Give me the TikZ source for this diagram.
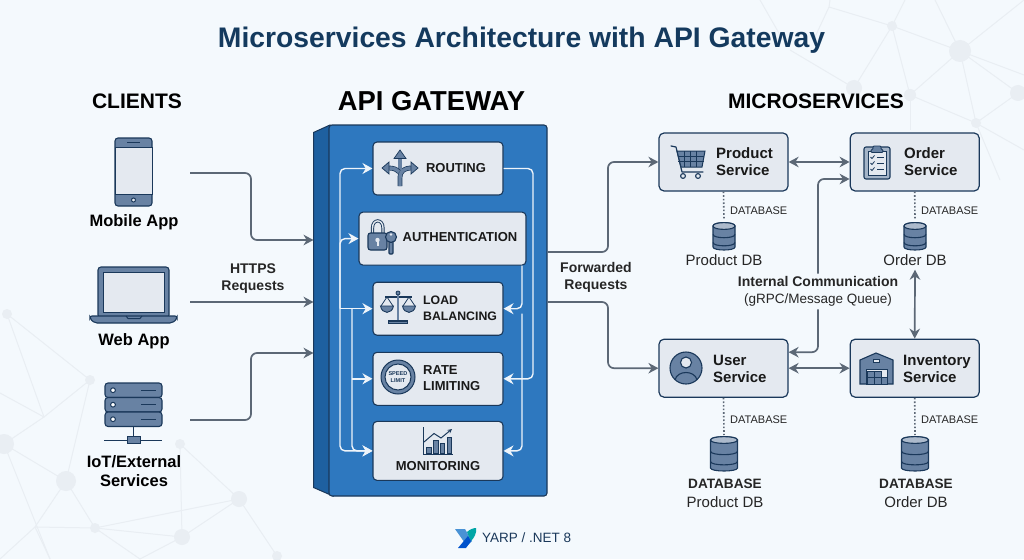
\documentclass[tikz,border=0pt]{standalone}
\usepackage{xcolor}
\usepackage{fontspec}
\setmainfont{Liberation Sans}
\usetikzlibrary{arrows,arrows.meta,positioning,calc}
\definecolor{bgcol}{RGB}{244,249,253}
\definecolor{netcol}{RGB}{233,238,243}
\definecolor{titlecol}{RGB}{20,58,94}
\definecolor{navy}{RGB}{26,56,90}
\definecolor{steel}{RGB}{104,130,163}
\definecolor{pale}{RGB}{228,233,240}
\definecolor{gwfront}{RGB}{46,120,191}
\definecolor{gwside}{RGB}{30,96,160}
\definecolor{linkcol}{RGB}{92,104,118}
\newcommand{\fs}[1]{\fontsize{#1}{#1}\selectfont}
% cylinder icon: centre x, top y, half width, height
\newcommand{\dbicon}[4]{
  \draw[navy, fill=steel, line width=1.1pt] (#1-#3,#2+3) -- (#1-#3,#2+#4-3)
    .. controls (#1-#3,#2+#4+1) and (#1+#3,#2+#4+1) .. (#1+#3,#2+#4-3) -- (#1+#3,#2+3)
    .. controls (#1+#3,#2-1.5) and (#1-#3,#2-1.5) .. cycle;
  \draw[navy, fill=steel!55, line width=1.1pt] (#1-#3,#2+3)
    .. controls (#1-#3,#2+7.5) and (#1+#3,#2+7.5) .. (#1+#3,#2+3)
    .. controls (#1+#3,#2-1.5) and (#1-#3,#2-1.5) .. cycle;
  \foreach \k in {0.42,0.72}
    \draw[navy, line width=1.1pt] (#1-#3,#2+\k*#4)
      .. controls (#1-#3,#2+\k*#4+4.5) and (#1+#3,#2+\k*#4+4.5) .. (#1+#3,#2+\k*#4);
}

\begin{document}
\begin{tikzpicture}[
    x=1pt, y=-1pt,
    module/.style={rectangle, rounded corners=4pt, draw=navy, fill=pale, line width=1.1pt, minimum width=130pt, minimum height=53pt},
    service/.style={rectangle, rounded corners=5pt, draw=navy, fill=pale, line width=1.2pt, minimum width=129pt, minimum height=58pt},
    head/.style={font=\bfseries\fs{21}, text=black},
    caption/.style={font=\bfseries\fs{16.5}, align=center, text=black, inner sep=0pt},
    small/.style={font=\bfseries\fs{14}, align=center, text=black!85, inner sep=0pt},
    modtext/.style={font=\bfseries\fs{13}, align=left, text=black!90, inner sep=0pt},
    svctext/.style={font=\bfseries\fs{15}, align=left, text=black!90, inner sep=0pt},
    dbtag/.style={font=\fs{11}, text=black!85, inner sep=0pt, anchor=west},
    dbname/.style={font=\fs{15}, align=center, text=black!85, inner sep=0pt},
    link/.style={-{Stealth[length=10pt,width=10.5pt]}, draw=linkcol, line width=1.7pt, rounded corners=6pt},
    biglink/.style={link, {Stealth[length=10pt,width=10.5pt]}-{Stealth[length=10pt,width=10.5pt]}},
    flow/.style={-{Stealth[length=10pt,width=11pt]}, draw=white!92!gwfront, line width=1.4pt, rounded corners=5pt},
    bothflow/.style={flow, {Stealth[length=10pt,width=11pt]}-{Stealth[length=10pt,width=11pt]}},
    dbline/.style={draw=linkcol, line width=1.6pt, dotted},
    icon/.style={draw=navy, fill=steel, line width=1.1pt},
    road/.style={draw=navy, line width=.7pt, double=steel, double distance=3.4pt},
    netline/.style={draw=netcol, line width=1pt}
]
    \useasboundingbox (0,0) rectangle (1024,559);
    \fill[bgcol] (0,0) rectangle (1024,559);

    % background network
    \foreach \n/\x/\y in {a/7/314, b/90/380, c/44/417, d/4/444, e/66/481, f/35/527, g/95/528, h/180/444, i/239/499, j/182/537, k/277/556,
        l/0/393, m/50/559, o/0/559, p/140/559, q/50/559,
        r/829/7, s/892/26, t/960/51, u/854/88, v/910/95, w/1018/93, z/976/123,
        aa/780/35, ab/760/0, ac/905/0, ad/935/0, ae/1024/0, af/1024/75, ag/1024/150, ah/1000/180, ai/910/130, aj/790/50, ak/830/0, al/815/37}
        \coordinate (n\n) at (\x,\y);
    \foreach \a/\b in {a/b, a/c, b/c, c/d, l/c, b/e, d/e, d/m, e/f, e/g, f/g, f/o, g/i, g/j, j/i, h/i, h/j, i/k, j/p, f/m, g/p,
        s/t, s/r, r/al, s/u, s/v, t/v, t/w, t/z, t/af, v/z, w/z, z/ag, z/ah, v/ai, ab/aa, ac/s, ad/t, ae/t, u/aj, r/ak}
        \draw[netline] (n\a) -- (n\b);
    \foreach \n/\r in {a/5, b/5, d/10, e/10, g/5, h/5, i/8, j/8, k/5, s/5, t/11, u/8, v/6, w/8, z/5}
        \fill[netcol] (n\n) circle[radius=\r];

    % headings
    \node[font=\bfseries\fs{28.3}, text=titlecol] (title) at (521.5,40) {Microservices Architecture with API Gateway};
    \node[head] (clientshead) at (137,101) {CLIENTS};
    \node[head, font=\bfseries\fs{27.4}] (gatewayhead) at (431.5,101) {API GATEWAY};
    \node[head] (serviceshead) at (816,101) {MICROSERVICES};

    % clients
    \draw[icon, rounded corners=3pt] (115,138) rectangle (152,206);
    \draw[navy, fill=pale, line width=1pt] (115,147) rectangle (152,194);
    \draw[navy, line width=1pt] (127,142.5) -- (140,142.5);
    \draw[navy, fill=pale, line width=1pt] (133.5,200) circle[radius=2];
    \node[caption] (mobilelabel) at (134,222.5) {Mobile App};

    \draw[icon, rounded corners=3pt] (98,267) rectangle (169,318);
    \draw[navy, fill=pale, line width=1pt] (103,272) rectangle (164,312);
    \draw[icon, rounded corners=2pt] (90,316) -- (177,316) -- (177,319) -- (172,323) -- (95,323) -- (90,319) -- cycle;
    \draw[navy, line width=1pt] (126,316) -- (128,318.5) -- (140,318.5) -- (142,316);
    \node[caption] (weblabel) at (134,341.5) {Web App};

    \foreach \y in {383,397.5,412}
        \draw[icon, rounded corners=3pt] (105,\y) rectangle (162,\y+14.5);
    \foreach \y in {390.5,405,419.5} {
        \draw[navy, fill=white, line width=1pt] (113,\y-.3) circle[radius=2.4];
        \draw[navy, line width=1pt] (141,\y-.3) -- (156,\y-.3);
    }
    \draw[navy, line width=1pt] (133.5,427) -- (133.5,438) (104,440) -- (162,440);
    \draw[icon, line width=1pt] (127,436.5) rectangle (140,443.5);
    \node[caption] (iotlabel) at (134,471) {IoT/External\\[3pt]Services};

    \coordinate (mobileout) at (190,173);
    \coordinate (webout) at (190,302);
    \coordinate (iotout) at (190,420);
    \coordinate (clientbus) at (251,300);

    % gateway
    \node[rectangle, draw=navy, fill=gwside, line width=1pt, minimum width=16pt, minimum height=354pt] (side) at (322,310) {};
    \draw[navy, fill=gwside, line width=1pt] (side.north west) -- (330,125) -- (side.north east |- 330,140) -- (side.south east) -- (333,496) -- (side.south west) -- cycle;
    \node[rectangle, rounded corners=3pt, draw=navy, fill=gwfront, line width=1.1pt, minimum width=218pt, minimum height=371pt] (gateway) at (438,310.5) {};

    \node[module] (routing) at (438,168.5) {};
    \node[module, minimum width=167pt, below=16pt of routing, xshift=4.5pt] (auth) {};
    \node[module, below=16pt of auth, xshift=-4.5pt] (load) {};
    \node[module, below=16pt of load] (rate) {};
    \node[module, minimum height=59pt, below=15pt of rate] (monitoring) {};

    \node[modtext] (routingtext) at (456,168.5) {ROUTING};
    \node[modtext] (authtext) at (460,237.5) {AUTHENTICATION};
    \node[modtext, anchor=west, font=\bfseries\fs{12.3}] (loadtext) at (423,308) {LOAD\\[3.5pt]BALANCING};
    \node[modtext, anchor=west] (ratetext) at (423,378) {RATE\\[3pt]LIMITING};
    \node[modtext] (montext) at (438,466) {MONITORING};

    % module icons
    \draw[road] (400,186) -- (400,178) .. controls (400,171) and (404,168) .. (412,168);
    \draw[road] (400,172) -- (400,158);
    \draw[road] (399,172) .. controls (396,169) and (394,168) .. (388,168);
    \draw[icon, line width=.7pt] (400,150) -- (406,158.5) -- (394,158.5) -- cycle;
    \draw[icon, line width=.7pt] (382,168) -- (389,162) -- (389,174) -- cycle;
    \draw[icon, line width=.7pt] (418,168) -- (411,162) -- (411,174) -- cycle;

    \draw[navy, line width=3.2pt] (372.5,233) -- (372.5,228) .. controls (372.5,218.5) and (383,218.5) .. (383,228) -- (383,233);
    \draw[pale, line width=1.4pt] (372.5,233) -- (372.5,228) .. controls (372.5,218.5) and (383,218.5) .. (383,228) -- (383,233);
    \draw[icon, rounded corners=2.5pt] (368,233) rectangle (387,250);
    \fill[pale] (377.5,240) circle[radius=2.2];
    \fill[pale] (376.5,240) rectangle (378.5,246);
    \draw[icon, rounded corners=1pt] (389,240) -- (389,254) -- (393,254) -- (393,240) -- cycle;
    \draw[icon] (391,237) circle[radius=5.5];
    \fill[pale] (391,234.5) circle[radius=1.3];

    \draw[navy, line width=1.1pt] (385,297) -- (412,297);
    \draw[steel, line width=2.4pt] (398,292) -- (398,321);
    \draw[navy, fill=steel, line width=.8pt] (398,293) circle[radius=2];
    \draw[icon] (388.5,321) -- (407.5,321) -- (407.5,323.5) -- (388.5,323.5) -- cycle;
    \foreach \c in {387,409} {
        \draw[navy, line width=.8pt] (\c,297) -- (\c-6,306) (\c,297) -- (\c+6,306);
        \draw[icon, line width=.9pt] (\c-6.5,306) .. controls (\c-5,314.5) and (\c+5,314.5) .. (\c+6.5,306) -- cycle;
    }

    \draw[navy, fill=steel, line width=1pt] (398,377) circle[radius=17];
    \draw[navy, fill=pale, line width=1pt] (398,377) circle[radius=13];
    \node[font=\bfseries\fs{5.6}, align=center, text=navy, inner sep=0pt] (speedtext) at (398,377) {SPEED\\[1.5pt]LIMIT};

    \draw[navy, line width=1pt] (423,427) -- (423,454) -- (453,454);
    \foreach \x/\y in {426.5/447, 433.5/440, 440/443.5, 447/437}
        \draw[icon, line width=.9pt] (\x,\y) rectangle (\x+4.5,453);
    \draw[navy, line width=1pt, ->, >=stealth] (424,442) -- (434,433.5) -- (441,438) -- (452,429);

    % gateway flows
    \coordinate (busa) at (340,300);
    \coordinate (busb) at (352,300);
    \coordinate (busc) at (533,300);
    \coordinate (busd) at (522,300);
    \draw[bothflow] (routing.west) -- (busa |- routing.west) -- (busa |- monitoring.west) -- (monitoring.west);
    \draw[flow] (busa |- load.west) -- (busa |- auth.west) -- (auth.west);
    \draw[flow] (busa |- load.west) -- (load.west);
    \draw[flow] (busb |- load.west) -- (busb |- monitoring.west) -- (monitoring.west);
    \draw[flow] (busb |- rate.west) -- (rate.west);
    \draw[flow] (routing.east) -- (busc |- routing.east) -- (busc |- rate.east) -- (rate.east);
    \draw[flow] (busd |- auth.south) -- (busd |- load.east) -- (load.east);
    \draw[flow] ([yshift=-5pt]busd |- load.east) -- (busd |- monitoring.east) -- (monitoring.east);

    % client links
    \coordinate (gwina) at ([yshift=70pt]side.west);
    \coordinate (gwinc) at ([yshift=-43pt]side.west);
    \draw[link] (mobileout) -- (clientbus |- mobileout) -- (clientbus |- gwina) -- (gwina);
    \draw[link] (webout) -- (webout -| side.west);
    \draw[link] (iotout) -- (clientbus |- iotout) -- (clientbus |- gwinc) -- (gwinc);
    \node[small] (https) at (253,279) {HTTPS\\[3pt]Requests};

    % services
    \node[service] (product) at (723.5,162) {};
    \node[service, right=61pt of product] (order) {};
    \node[service, below=147pt of product] (user) {};
    \node[service, right=61pt of user] (inventory) {};
    \node[svctext, anchor=west] (producttext) at (716,162) {Product\\[2pt]Service};
    \node[svctext, anchor=west] (ordertext) at (904,162) {Order\\[2pt]Service};
    \node[svctext, anchor=west] (usertext) at (713,369) {User\\[2pt]Service};
    \node[svctext, anchor=west] (inventorytext) at (903,369) {Inventory\\[2pt]Service};

    % service icons
    \draw[navy, line width=1.2pt, line cap=round, line join=round] (671,146) -- (676,147) -- (682,172) -- (703,172);
    \draw[icon, line width=1pt] (677,151) -- (705,151) -- (702,167) -- (681,167) -- cycle;
    \foreach \x in {684,690,696}
        \draw[navy, line width=.8pt] (\x,151) -- (\x,167);
    \foreach \y in {156,161.5}
        \draw[navy, line width=.8pt] (678,\y) -- (704,\y);
    \foreach \x in {683,698}
        \draw[navy, fill=pale, line width=1.1pt] (\x,176) circle[radius=2.4];

    \draw[icon, fill=steel!60, rounded corners=2pt] (864,147) rectangle (890,179);
    \draw[navy, fill=pale, line width=.9pt] (868,151) rectangle (886,175);
    \draw[icon, rounded corners=1pt, line width=.9pt] (871,149.5) -- (873,149.5) -- (873,146) -- (881,146) -- (881,149.5) -- (883,149.5) -- (883,152.5) -- (871,152.5) -- cycle;
    \foreach \y in {157,163,169} {
        \draw[navy, line width=.8pt] (870.5,\y) -- (872,\y+1.5) -- (874.5,\y-1.5);
        \draw[navy, line width=.9pt] (877,\y) -- (884,\y);
    }

    \draw[icon] (686,368) circle[radius=16];
    \draw[navy, fill=pale, line width=1.1pt] (686,362.5) circle[radius=5.5];
    \draw[navy, line width=1.1pt] (675,380) .. controls (677,370) and (695,370) .. (697,380);

    \draw[icon] (860,384) -- (860,360) -- (876,353) -- (893,360) -- (893,384) -- cycle;
    \draw[navy, fill=pale, line width=.9pt] (873,359.5) rectangle (879,362.5);
    \draw[navy, fill=pale, line width=.9pt] (866,369) rectangle (887,384);
    \foreach \x/\y/\w in {867/371/7, 874.5/371/7, 867/377.5/7, 874.5/377.5/7, 881.5/377.5/5.5}
        \draw[navy, fill=steel, line width=.7pt] (\x,\y) rectangle (\x+\w,\y+6.5);

    % databases
    \draw[dbline] (product.south) -- (724,220);
    \draw[dbline] (order.south) -- (915,220);
    \draw[dbline] (user.south) -- (724,435);
    \draw[dbline] (inventory.south) -- (915,435);
    \node[dbtag] (producttag) at (730,211) {DATABASE};
    \node[dbtag] (ordertag) at (921,211) {DATABASE};
    \node[dbtag] (usertag) at (730,420) {DATABASE};
    \node[dbtag] (inventorytag) at (921,420) {DATABASE};
    \dbicon{724}{223}{11}{27}
    \dbicon{915}{223}{11}{27}
    \dbicon{724}{437}{13.5}{34}
    \dbicon{915}{437}{13.5}{34}
    \node[dbname] (productdb) at (724,260) {Product DB};
    \node[dbname] (orderdb) at (915,260) {Order DB};
    \node[dbname] (userdb) at (725,493.5) {\textbf{\fs{13.6}DATABASE}\\[3.5pt]Product DB};
    \node[dbname] (inventorydb) at (916,493.5) {\textbf{\fs{13.6}DATABASE}\\[3.5pt]Order DB};

    % service links
    \node[font=\fs{13.5}, align=center, text=black!85, inner sep=3pt] (internal) at (818,291.5) {\textbf{\fs{14}Internal Communication}\\[3pt](gRPC/Message Queue)};
    \draw[biglink] (product.east) -- (order.west);
    \draw[biglink] (user.east) -- (inventory.west);
    \draw[link] (internal.north) |- ([yshift=-17pt]order.west);
    \draw[link] (internal.south) |- ([yshift=16pt]user.east);
    \draw[biglink] ([yshift=-4pt]orderdb.south) -- (inventory.north);

    % forwarded links
    \coordinate (fwdbus) at (608,300);
    \coordinate (gwouta) at ([yshift=58.5pt]gateway.east);
    \coordinate (gwoutb) at ([yshift=8.5pt]gateway.east);
    \draw[link] (gwouta) -- (fwdbus |- gwouta) -- (fwdbus |- product.west) -- (product.west);
    \draw[link] (gwoutb) -- (fwdbus |- gwoutb) -- (fwdbus |- user.west) -- (user.west);
    \node[small] (forwarded) at (596,277) {Forwarded\\[3pt]Requests};

    % footer
    \fill[cyan!60!blue!75] (455,529) -- (465,529) -- (472,541) -- (467,546) -- cycle;
    \fill[teal!70!cyan] (467,532) .. controls (470,529) and (474,528) .. (476,528) .. controls (477,533) and (474,538) .. (471,541) -- cycle;
    \fill[blue!60!cyan!80!black] (458,548) -- (468,536) -- (471,541) -- (466,548) -- cycle;
    \node[font=\fs{13.5}, text=navy, anchor=west, inner sep=0pt] (footer) at (482,538) {YARP / .NET 8};
\end{tikzpicture}
\end{document}
